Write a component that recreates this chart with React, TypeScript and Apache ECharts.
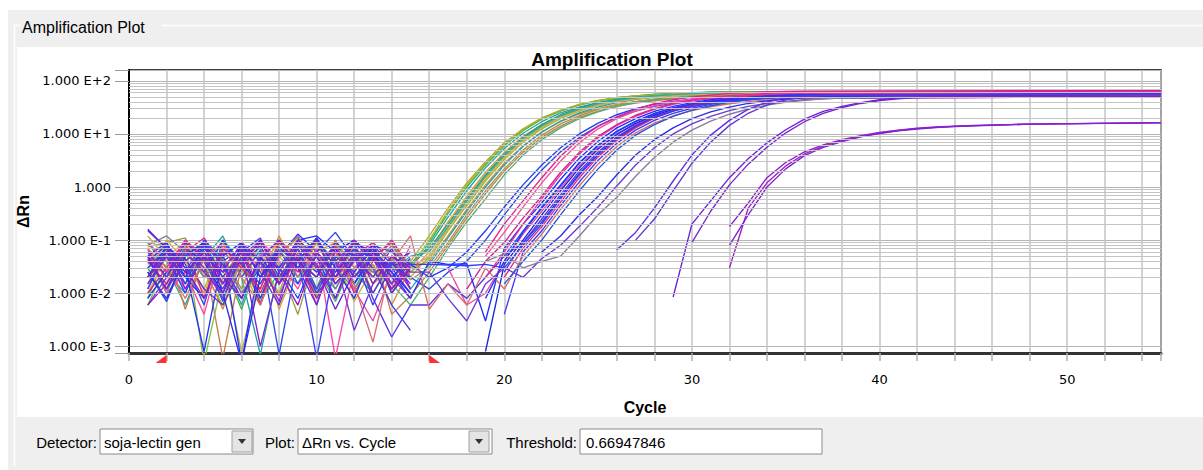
import React, { useEffect, useRef } from "react";
import * as echarts from "echarts";

// ---- axis ranges / labels ----
const CYCLE_MIN = 0;
const CYCLE_MAX = 55;
const CYCLE_STEP = 2;
const X_TICK_LABELS = [0, 10, 20, 30, 40, 50];
const Y_MIN = 0.00075;
const Y_MAX = 160;
const THRESHOLD = 0.66947846;
const BASELINE_START = 2;
const BASELINE_END = 16;

// ---- curves (one entry per well) ----
const curveColors = [
  // early wells
  "#b5a82c", "#3cb44b", "#22a6a0", "#e39a2f", "#2f9d6e", "#c2b03e", "#7cc242", "#d68a2c",
  "#2b9fb3", "#9a9a4e", "#c87a48", "#4fae72", "#a8b030", "#e8a848", "#26b0a8",
  "#1f3cff", "#2a4ae6",
  // middle wells
  "#e0208c", "#ff46a3", "#d41f8f", "#1e2fff", "#3344f2", "#e84aa6", "#1828dd", "#5a34e0",
  "#2a3cff", "#e0267e", "#3b3bf2", "#d86c6c", "#2454e0", "#e8309a", "#2232f8", "#4038e8",
  "#2a30e8", "#6c3ad2", "#8a7c98",
  // late wells
  "#5b2fe2", "#6432d6",
  "#6a1fd8", "#7d23cf",
  "#8c1ec8", "#9a22c2", "#7f22d4",
];

// baseline noise, cycles 1..n
const noiseValues: number[][] = [
  [0.05, 0.012, 0.08, 0.025, 0.006, 0.04, 0.1, 0.018, 0.05, 0.009, 0.035, 0.07, 0.015, 0.03],
  [0.008, 0.06, 0.02, 0.09, 0.035, 0.005, 0.05, 0.015, 0.11, 0.03, 0.007, 0.045, 0.08, 0.02],
  [0.09, 0.03, 0.006, 0.045, 0.12, 0.02, 0.0007, 0.03, 0.07, 0.012, 0.06, 0.025, 0.01, 0.04],
  [0.02, 0.1, 0.04, 0.01, 0.065, 0.025, 0.08, 0.005, 0.04, 0.09, 0.018, 0.05, 0.03, 0.015],
  [0.03, 0.007, 0.055, 0.09, 0.015, 0.04, 0.008, 0.075, 0.03, 0.012, 0.1, 0.02, 0.06, 0.01, 0.035],
  [0.12, 0.045, 0.015, 0.07, 0.03, 0.0008, 0.02, 0.06, 0.1, 0.025, 0.045, 0.007, 0.03, 0.08, 0.02],
  [0.006, 0.035, 0.09, 0.0005, 0.02, 0.07, 0.04, 0.01, 0.11, 0.03, 0.06, 0.015, 0.045, 0.1, 0.025],
  [0.04, 0.015, 0.07, 0.03, 0.005, 0.05, 0.02, 0.12, 0.025, 0.06, 0.09, 0.012, 0.035, 0.006, 0.03],
  [0.065, 0.025, 0.01, 0.08, 0.04, 0.006, 0.06, 0.03, 0.015, 0.1, 0.04, 0.08, 0.02, 0.05, 0.012],
  [0.075, 0.09, 0.11, 0.02, 0.05, 0.012, 0.09, 0.035, 0.004, 0.06, 0.02, 0.07, 0.01, 0.045, 0.018],
  [0.015, 0.07, 0.005, 0.05, 0.0006, 0.035, 0.012, 0.09, 0.045, 0.02, 0.1, 0.03, 0.07, 0.004, 0.009],
  [0.05, 0.01, 0.07, 0.02, 0.1, 0.04, 0.007, 0.025, 0.08, 0.03, 0.012, 0.06, 0.025, 0.015, 0.006],
  [0.07, 0.02, 0.045, 0.012, 0.08, 0.03, 0.006, 0.05, 0.02, 0.09, 0.04, 0.015, 0.06, 0.03],
  [0.01, 0.05, 0.09, 0.03, 0.015, 0.06, 0.025, 0.1, 0.04, 0.008, 0.05, 0.07, 0.02, 0.04, 0.03],
  [0.035, 0.09, 0.02, 0.06, 0.008, 0.045, 0.07, 0.02, 0.055, 0.1, 0.03, 0.012, 0.05, 0.025, 0.05],
  [0.03, 0.06, 0.015, 0.09, 0.04, 0.07, 0.008, 0.05, 0.13, 0.06, 0.025, 0.09, 0.04, 0.035, 0.035],
  [0.012, 0.08, 0.035, 0.006, 0.1, 0.02, 0.065, 0.0007, 0.05, 0.025, 0.08, 0.015, 0.06, 0.03, 0.02],
  [0.04, 0.015, 0.06, 0.11, 0.03, 0.08, 0.01, 0.06, 0.025, 0.1, 0.02, 0.05, 0.09, 0.04, 0.012],
  [0.07, 0.01, 0.025, 0.004, 0.08, 0.03, 0.1, 0.04, 0.012, 0.07, 0.0006, 0.03, 0.06, 0.015, 0.08],
  [0.01, 0.03, 0.1, 0.05, 0.015, 0.065, 0.006, 0.09, 0.04, 0.02, 0.075, 0.01, 0.04, 0.1, 0.03],
  [0.05, 0.09, 0.02, 0.008, 0.06, 0.0005, 0.045, 0.03, 0.1, 0.12, 0.06, 0.015, 0.05, 0.025, 0.008],
  [0.025, 0.007, 0.05, 0.09, 0.02, 0.06, 0.11, 0.015, 0.05, 0.0006, 0.04, 0.09, 0.06, 0.03, 0.01],
  [0.09, 0.04, 0.012, 0.06, 0.03, 0.008, 0.05, 0.1, 0.02, 0.07, 0.045, 0.012, 0.003, 0.025, 0.06],
  [0.008, 0.025, 0.07, 0.04, 0.01, 0.09, 0.02, 0.05, 0.12, 0.03, 0.06, 0.1, 0.045, 0.012, 0.03],
  [0.15, 0.07, 0.045, 0.012, 0.006, 0.03, 0.08, 0.015, 0.05, 0.01, 0.025, 0.07, 0.008, 0.0015, 0.006],
  [0.02, 0.05, 0.01, 0.07, 0.025, 0.04, 0.09, 0.03, 0.008, 0.06, 0.14, 0.045, 0.08, 0.06, 0.035],
  [0.05, 0.02, 0.09, 0.008, 0.06, 0.03, 0.012, 0.1, 0.05, 0.006, 0.06, 0.02, 0.045, 0.09, 0.02],
  [0.012, 0.06, 0.025, 0.1, 0.045, 0.01, 0.03, 0.07, 0.015, 0.05, 0.008, 0.07, 0.03, 0.006, 0.002],
  [0.07, 0.03, 0.008, 0.045, 0.09, 0.02, 0.006, 0.05, 0.12, 0.03, 0.06, 0.015, 0.0012, 0.04, 0.12],
  [0.03, 0.07, 0.015, 0.05, 0.007, 0.08, 0.04, 0.015, 0.07, 0.01, 0.05, 0.025, 0.08, 0.035, 0.02],
  [0.06, 0.025, 0.1, 0.04, 0.015, 0.07, 0.03, 0.009, 0.06, 0.035, 0.08, 0.02, 0.05, 0.012, 0.03],
  [0.02, 0.08, 0.03, 0.0008, 0.05, 0.09, 0.02, 0.06, 0.03, 0.11, 0.015, 0.04, 0.07, 0.025, 0.01],
  [0.045, 0.012, 0.06, 0.025, 0.1, 0.035, 0.015, 0.07, 0.04, 0.02, 0.09, 0.05, 0.006, 0.035, 0.06],
  [0.025, 0.008, 0.05, 0.09, 0.01, 0.0005, 0.02, 0.07, 0.04, 0.11, 0.03, 0.008, 0.06, 0.02, 0.045],
  [0.006, 0.02, 0.07, 0.03, 0.008, 0.05, 0.1, 0.02, 0.07, 0.012, 0.045, 0.002, 0.015, 0.05, 0.025],
  [0.08, 0.12, 0.06, 0.02, 0.045, 0.01, 0.035, 0.07, 0.02, 0.06, 0.012, 0.05, 0.025, 0.08, 0.03],
  [0.015, 0.05, 0.02, 0.08, 0.035, 0.008, 0.045, 0.1, 0.03, 0.006, 0.07, 0.02, 0.05, 0.015, 0.04],
  [0.06, 0.02, 0.09, 0.045, 0.012, 0.07, 0.025, 0.006, 0.05, 0.1, 0.02, 0.055, 0.01, 0.04, 0.015],
  [0.16, 0.07, 0.025, 0.06, 0.02, 0.008, 0.05, 0.015, 0.08, 0.03, 0.005, 0.025, 0.07, 0.01, 0.03],
  [0.05, 0.012, 0.04, 0.08, 0.015, 0.06, 0.001, 0.025, 0.09, 0.035, 0.008, 0.05, 0.02, 0.07, 0.012],
  [0.02, 0.06, 0.03, 0.008, 0.07, 0.035, 0.1, 0.025, 0.006, 0.06, 0.02, 0.09, 0.015, 0.05, 0.03],
  [0.006, 0.015, 0.06, 0.025, 0.01, 0.05, 0.08, 0.015, 0.045, 0.008, 0.03, 0.1, 0.05, 0.012, 0.04],
  [0.04, 0.08, 0.012, 0.05, 0.025, 0.09, 0.04, 0.007, 0.1, 0.05, 0.015, 0.04, 0.08, 0.02, 0.008],
];

// first cycle of the amplification part of each curve
const riseStart = [
  15, 15, 15, 15, 16, 16, 16, 16, 16, 16, 16, 16, 15, 16, 16,
  16, 16,
  19, 19, 18, 16, 20, 17, 19, 16, 16, 20, 20, 16, 20, 19, 19, 20,
  22, 16, 19,
  26, 27,
  29, 30,
  32, 32, 32,
];

// amplification values, one per consecutive cycle from riseStart
const riseValues: number[][] = [
  [0.04, 0.12, 0.4, 1.2, 3.0, 6.8, 12.5, 20, 28, 36, 43, 48, 52, 55, 57, 58.5, 59.5, 60.5],
  [0.035, 0.09, 0.32, 1.0, 2.6, 6.0, 11.5, 19, 27, 35, 42, 48, 52, 56, 58, 60, 61, 62],
  [0.03, 0.08, 0.27, 0.85, 2.3, 5.3, 10.3, 17, 25, 32, 39, 44, 48, 51, 54, 56, 57, 58],
  [0.025, 0.06, 0.22, 0.67, 1.9, 4.5, 9, 15, 22, 30, 37, 42, 46, 50, 52, 54, 55.5, 56.5],
  [0.07, 0.2, 0.6, 1.7, 4.2, 8.6, 15, 23, 31, 39, 45, 50, 54, 57, 59, 61, 62],
  [0.05, 0.17, 0.52, 1.5, 3.7, 7.7, 13.5, 21, 28, 35, 41, 46, 50, 53, 55, 57, 58],
  [0.045, 0.15, 0.45, 1.3, 3.3, 7, 12.5, 19.5, 27, 34, 40, 45, 49, 53, 56, 58, 59],
  [0.04, 0.12, 0.38, 1.1, 2.8, 6, 11, 17, 24, 30, 36, 41, 45, 48, 50, 52, 53],
  [0.035, 0.11, 0.35, 1.0, 2.6, 5.8, 10.8, 17.5, 25, 32, 39, 45, 50, 54, 57, 59, 60],
  [0.03, 0.09, 0.3, 0.85, 2.2, 5, 9.5, 15.5, 22, 29, 35, 40, 45, 48, 51, 53, 55],
  [0.025, 0.08, 0.26, 0.75, 2.0, 4.5, 8.6, 14, 20.5, 27, 33, 38, 42, 46, 49, 51, 53],
  [0.02, 0.07, 0.22, 0.6, 1.7, 4, 7.8, 13, 19.5, 26, 33, 39, 44, 48, 52, 55, 57],
  [0.03, 0.1, 0.35, 1.1, 2.8, 6.4, 12, 19.5, 27.5, 35.5, 42.5, 48, 52, 55, 57.5, 59, 60, 61],
  [0.05, 0.16, 0.5, 1.4, 3.5, 7.4, 13, 20, 27.5, 34.5, 40.5, 45.5, 49.5, 52.5, 55, 56.5, 57.5],
  [0.06, 0.18, 0.55, 1.6, 3.9, 8.1, 14.2, 22, 29.5, 37, 43, 48, 52, 55, 57.5, 59, 60],
  [0.02, 0.03, 0.06, 0.15, 0.42, 1.1, 2.6, 5.5, 10, 16, 23, 30, 36, 41, 45, 48, 50, 52, 53],
  [0.012, 0.025, 0.04, 0.1, 0.3, 0.85, 2.1, 4.6, 8.6, 14, 20.5, 27, 33, 38, 43, 46, 49, 51, 52],
  [0.06, 0.2, 0.55, 1.5, 3.8, 8, 14, 21, 29, 37, 44, 50, 54, 58, 60, 62, 63, 64],
  [0.05, 0.14, 0.42, 1.2, 3.1, 6.8, 12.5, 19.5, 27, 34, 40, 45, 49, 52, 54, 56, 57],
  [0.012, 0.04, 0.09, 0.26, 0.67, 1.9, 4.5, 9, 15, 22.5, 30, 37, 43, 48, 52, 55, 58, 60],
  [0.04, 0.035, 0.036, 0.003, 0.07, 0.2, 0.5, 1.4, 3.5, 7.3, 13, 19.5, 26.5, 33, 39, 44, 48, 51, 53, 54.5],
  [0.05, 0.15, 0.42, 1.1, 2.9, 6.2, 11.3, 17.5, 24.5, 31, 37, 42, 46, 49, 51, 53],
  [0.03, 0.006, 0.01, 0.04, 0.13, 0.35, 0.95, 2.5, 5.5, 10, 15.5, 21.5, 27.5, 33, 37.5, 41, 44, 46, 47.5],
  [0.0008, 0.035, 0.1, 0.3, 0.85, 2.3, 5.2, 9.8, 15.8, 22.5, 29, 35, 40, 44, 47.5, 50, 52],
  [0.006, 0.015, 0.008, 0.02, 0.05, 0.09, 0.25, 0.72, 2.0, 4.6, 8.8, 14.5, 21, 27.5, 33, 38, 42, 45.5, 48, 50],
  [0.035, 0.034, 0.033, 0.035, 0.03, 0.08, 0.2, 0.6, 1.7, 4.0, 8.0, 13.5, 20, 27, 33.5, 39, 44, 48, 51, 53, 54.5],
  [0.02, 0.07, 0.18, 0.52, 1.5, 3.7, 7.6, 13, 20, 27.5, 35, 41.5, 47, 51.5, 55, 57, 59],
  [0.004, 0.06, 0.15, 0.45, 1.25, 3.2, 6.7, 11.8, 18, 24.5, 30.5, 36, 40.5, 44, 47, 49.5, 51],
  [0.005, 0.015, 0.006, 0.03, 0.012, 0.05, 0.13, 0.38, 1.05, 2.7, 5.8, 10.5, 16, 22, 27.5, 32.5, 37, 40.5, 43.5, 45.5, 47],
  [0.015, 0.04, 0.1, 0.3, 0.85, 2.2, 5, 9.5, 15, 21.5, 28, 34, 39.5, 44, 47.5, 50, 52],
  [0.02, 0.06, 0.2, 0.6, 1.7, 4.2, 8.5, 14.5, 21.5, 29, 36, 42, 47, 51, 54, 56, 58],
  [0.008, 0.04, 0.14, 0.4, 1.05, 2.8, 6, 11, 17, 24, 30.5, 36.5, 41.5, 45.5, 48.5, 51, 53],
  [0.025, 0.09, 0.22, 0.65, 1.8, 4.3, 8.4, 14, 20.5, 27, 33, 38.5, 43, 46.5, 49, 51, 52.5],
  [0.06, 0.12, 0.3, 0.67, 1.7, 4.0, 7.8, 13, 19.5, 26, 32, 37.5, 42, 45.5, 48, 50],
  [0.025, 0.008, 0.003, 0.015, 0.03, 0.02, 0.045, 0.08, 0.18, 0.42, 1.05, 2.6, 5.5, 10, 15.5, 21.5, 27.5, 33, 37.5, 41, 44, 46, 47.5],
  [0.04, 0.055, 0.03, 0.04, 0.05, 0.12, 0.3, 0.64, 1.6, 3.6, 7, 11.8, 17.5, 23.5, 29.5, 35, 39.5, 43, 46, 48],
  [0.066, 0.14, 0.4, 1.3, 4.0, 9.5, 18, 29, 40, 48, 52, 54, 55],
  [0.1, 0.25, 0.85, 2.8, 7, 14.5, 24.5, 35, 44, 50, 53, 54.5],
  [0.0085, 0.2, 0.55, 1.5, 3.4, 6.8, 12, 19, 26.5, 33, 39, 44, 47.5, 49.5, 50.5],
  [0.09, 0.35, 1.1, 2.7, 5.6, 10.5, 17, 24.5, 31.5, 37.5, 42.5, 46, 48.5, 50],
  [0.18, 0.5, 1.5, 2.9, 4.6, 6.2, 7.8, 9.3, 10.7, 11.8, 12.8, 13.5, 14, 14.4, 14.7, 15, 15.3],
  [0.03, 0.4, 1.2, 2.5, 4.2, 5.9, 7.5, 9.0, 10.4, 11.6, 12.6, 13.3, 13.9, 14.3, 14.7, 15, 15.3],
  [0.08, 0.3, 1.0, 2.2, 3.9, 5.6, 7.2, 8.8, 10.2, 11.4, 12.4, 13.2, 13.8, 14.2, 14.6, 15, 15.3],
];

// value at the last cycle (plateau)
const plateauValues = [
  62, 64, 60, 58, 65, 60, 62, 56, 63, 59, 57, 61, 63, 59, 62,
  56, 55,
  66, 60, 64, 58, 56, 50, 55, 53, 57, 62, 54, 50, 56, 61, 56, 55,
  54, 50, 52,
  56, 55,
  51, 51,
  16.3, 16.3, 16.2,
];

function yLabel(v: number): string {
  const e = Math.log10(v);
  const r = Math.round(e);
  if (Math.abs(e - r) > 1e-6) return "";
  if (r === 0) return "1.000";
  return "1.000 E" + (r > 0 ? "+" : "-") + Math.abs(r);
}

function buildCurve(i: number) {
  const pts: any[] = [];
  const noise = noiseValues[i];
  noise.forEach((v, k) => pts.push([k + 1, v]));
  const s = riseStart[i];
  if (s > noise.length + 1) pts.push([noise.length + 1, "-"]);
  riseValues[i].forEach((v, k) => pts.push([s + k, v]));
  pts.push([CYCLE_MAX, plateauValues[i]]);
  return pts;
}

function buildOption() {
  const minorLines: number[] = [];
  for (let e = -4; e <= 2; e++) {
    for (let m = 2; m <= 9; m++) {
      const v = m * Math.pow(10, e);
      if (v > Y_MIN && v < Y_MAX) minorLines.push(v);
    }
  }

  const curveSeries = curveColors.map((color, i) => ({
    type: "line",
    data: buildCurve(i),
    symbol: "none",
    showSymbol: false,
    silent: true,
    clip: true,
    z: 3,
    lineStyle: { color, width: 1.35 },
    itemStyle: { color },
  }));

  const labelFont = { fontFamily: "DejaVu Sans", fontSize: 13, color: "#000" };

  const textEl = (text: string, x: number, y: number, font: string, align = "left") => ({
    type: "text",
    silent: true,
    style: { text, x, y, font, fill: "#000", align, verticalAlign: "middle" },
  });
  const box = (x: number, y: number, w: number, h: number) => ({
    type: "rect",
    silent: true,
    shape: { x, y, width: w, height: h },
    style: { fill: "#ffffff", stroke: "#8a8a8a", lineWidth: 1 },
  });
  const dropBtn = (x: number, y: number) => [
    {
      type: "rect",
      silent: true,
      shape: { x, y, width: 20, height: 21 },
      style: { fill: "#e4e4e4", stroke: "#a0a0a0", lineWidth: 1 },
    },
    {
      type: "polygon",
      silent: true,
      shape: { points: [[x + 6, y + 8], [x + 14, y + 8], [x + 10, y + 13]] },
      style: { fill: "#333" },
    },
  ];

  const ctrlFont = '15px "Liberation Sans", Arial, sans-serif';

  const graphics: any[] = [
    { type: "rect", silent: true, shape: { x: 8, y: 10, width: 1195, height: 37 }, style: { fill: "#efefef" } },
    { type: "rect", silent: true, shape: { x: 8, y: 47, width: 9, height: 370 }, style: { fill: "#efefef" } },
    { type: "rect", silent: true, shape: { x: 8, y: 417, width: 1195, height: 53 }, style: { fill: "#efefef" } },
    { type: "line", silent: true, shape: { x1: 15, y1: 25.5, x2: 20, y2: 25.5 }, style: { stroke: "#ffffff", lineWidth: 1.5 } },
    { type: "line", silent: true, shape: { x1: 162, y1: 25.5, x2: 1203, y2: 25.5 }, style: { stroke: "#ffffff", lineWidth: 1.5 } },
    { type: "line", silent: true, shape: { x1: 14.5, y1: 25, x2: 14.5, y2: 466 }, style: { stroke: "#ffffff", lineWidth: 1.5 } },
    textEl("Amplification Plot", 22, 27, '16px "Liberation Sans", Arial, sans-serif'),
    textEl("Amplification Plot", 612, 59, 'bold 19px "Liberation Sans", Arial, sans-serif', "center"),
    textEl("Detector:", 97, 442, ctrlFont, "right"),
    box(100, 429, 153, 25),
    textEl("soja-lectin gen", 104, 442, ctrlFont),
    ...dropBtn(232, 431),
    textEl("Plot:", 295, 442, ctrlFont, "right"),
    box(298, 429, 194, 25),
    textEl("ΔRn vs. Cycle", 302, 442, ctrlFont),
    ...dropBtn(469, 431),
    textEl("Threshold:", 577, 442, ctrlFont, "right"),
    box(580, 429, 242, 25),
    textEl("0.66947846", 586, 442, ctrlFont),
  ];

  return {
    animation: false,
    backgroundColor: "#ffffff",
    graphic: graphics,
    grid: {
      left: 129,
      right: 42,
      top: 70,
      bottom: 117,
      show: true,
      borderColor: "#000",
      borderWidth: 1.5,
      backgroundColor: "transparent",
    },
    xAxis: {
      type: "value",
      min: CYCLE_MIN,
      max: CYCLE_MAX,
      interval: CYCLE_STEP,
      name: "Cycle",
      nameLocation: "middle",
      nameGap: 46,
      nameTextStyle: { fontFamily: "Liberation Sans, Arial", fontWeight: "bold", fontSize: 16, color: "#000" },
      axisLine: { show: true, onZero: false, lineStyle: { color: "#333", width: 3 } },
      axisTick: { show: true, length: 8, lineStyle: { color: "#b0b0b0", width: 1.5 } },
      axisLabel: {
        ...labelFont,
        margin: 20,
        formatter: (v: number) => (X_TICK_LABELS.indexOf(v) >= 0 ? String(v) : ""),
      },
      splitLine: { show: true, lineStyle: { color: "#c4c4c4", width: 1.5 } },
    },
    yAxis: {
      type: "log",
      logBase: 10,
      min: Y_MIN,
      max: Y_MAX,
      name: "ΔRn",
      nameLocation: "middle",
      nameRotate: 90,
      nameGap: 81,
      nameTextStyle: { fontFamily: "Liberation Sans, Arial", fontWeight: "bold", fontSize: 16, color: "#000" },
      axisLine: { show: true, lineStyle: { color: "#000", width: 2 } },
      axisTick: { show: true, length: 14, lineStyle: { color: "#9a9a9a" } },
      axisLabel: { ...labelFont, margin: 18, formatter: yLabel },
      splitLine: { show: true, lineStyle: { color: "#b4b4b4", width: 1 } },
    },
    series: [
      {
        type: "line",
        data: [[CYCLE_MIN, "-"]],
        silent: true,
        z: 1,
        markLine: {
          silent: true,
          symbol: "none",
          label: { show: false },
          lineStyle: { color: "#c4c4c4", width: 1, type: "solid" },
          data: minorLines.map((v) => ({ yAxis: v })),
        },
      },
      ...curveSeries,
      {
        type: "line",
        data: [[CYCLE_MIN, "-"]],
        silent: true,
        clip: false,
        z: 8,
        markLine: {
          silent: true,
          symbol: "none",
          label: { show: false },
          lineStyle: { color: "#ff0000", width: 2, type: "solid" },
          data: [[{ coord: [CYCLE_MIN - 0.37, THRESHOLD] }, { coord: [CYCLE_MAX + 0.37, THRESHOLD] }]],
        },
      },
      {
        type: "scatter",
        data: [[BASELINE_START, Y_MIN]],
        symbol: "path://M11 0 L11 8 L0 8 Z",
        symbolSize: [11, 8],
        symbolOffset: [-5.5, 6],
        itemStyle: { color: "#ff0000" },
        clip: false,
        silent: true,
        z: 9,
      },
      {
        type: "scatter",
        data: [[BASELINE_END, Y_MIN]],
        symbol: "path://M0 0 L11 8 L0 8 Z",
        symbolSize: [11, 8],
        symbolOffset: [5.5, 6],
        itemStyle: { color: "#ff0000" },
        clip: false,
        silent: true,
        z: 9,
      },
    ],
  };
}

export default function App() {
  const ref = useRef<HTMLDivElement>(null);
  useEffect(() => {
    if (!ref.current) return;
    const chart = echarts.init(ref.current, null, { renderer: "svg" });
    chart.setOption(buildOption() as any);
    return () => chart.dispose();
  }, []);
  return (
    <div
      ref={ref}
      style={{ position: "absolute", left: 0, top: 0, width: 1203, height: 470 }}
    />
  );
}
